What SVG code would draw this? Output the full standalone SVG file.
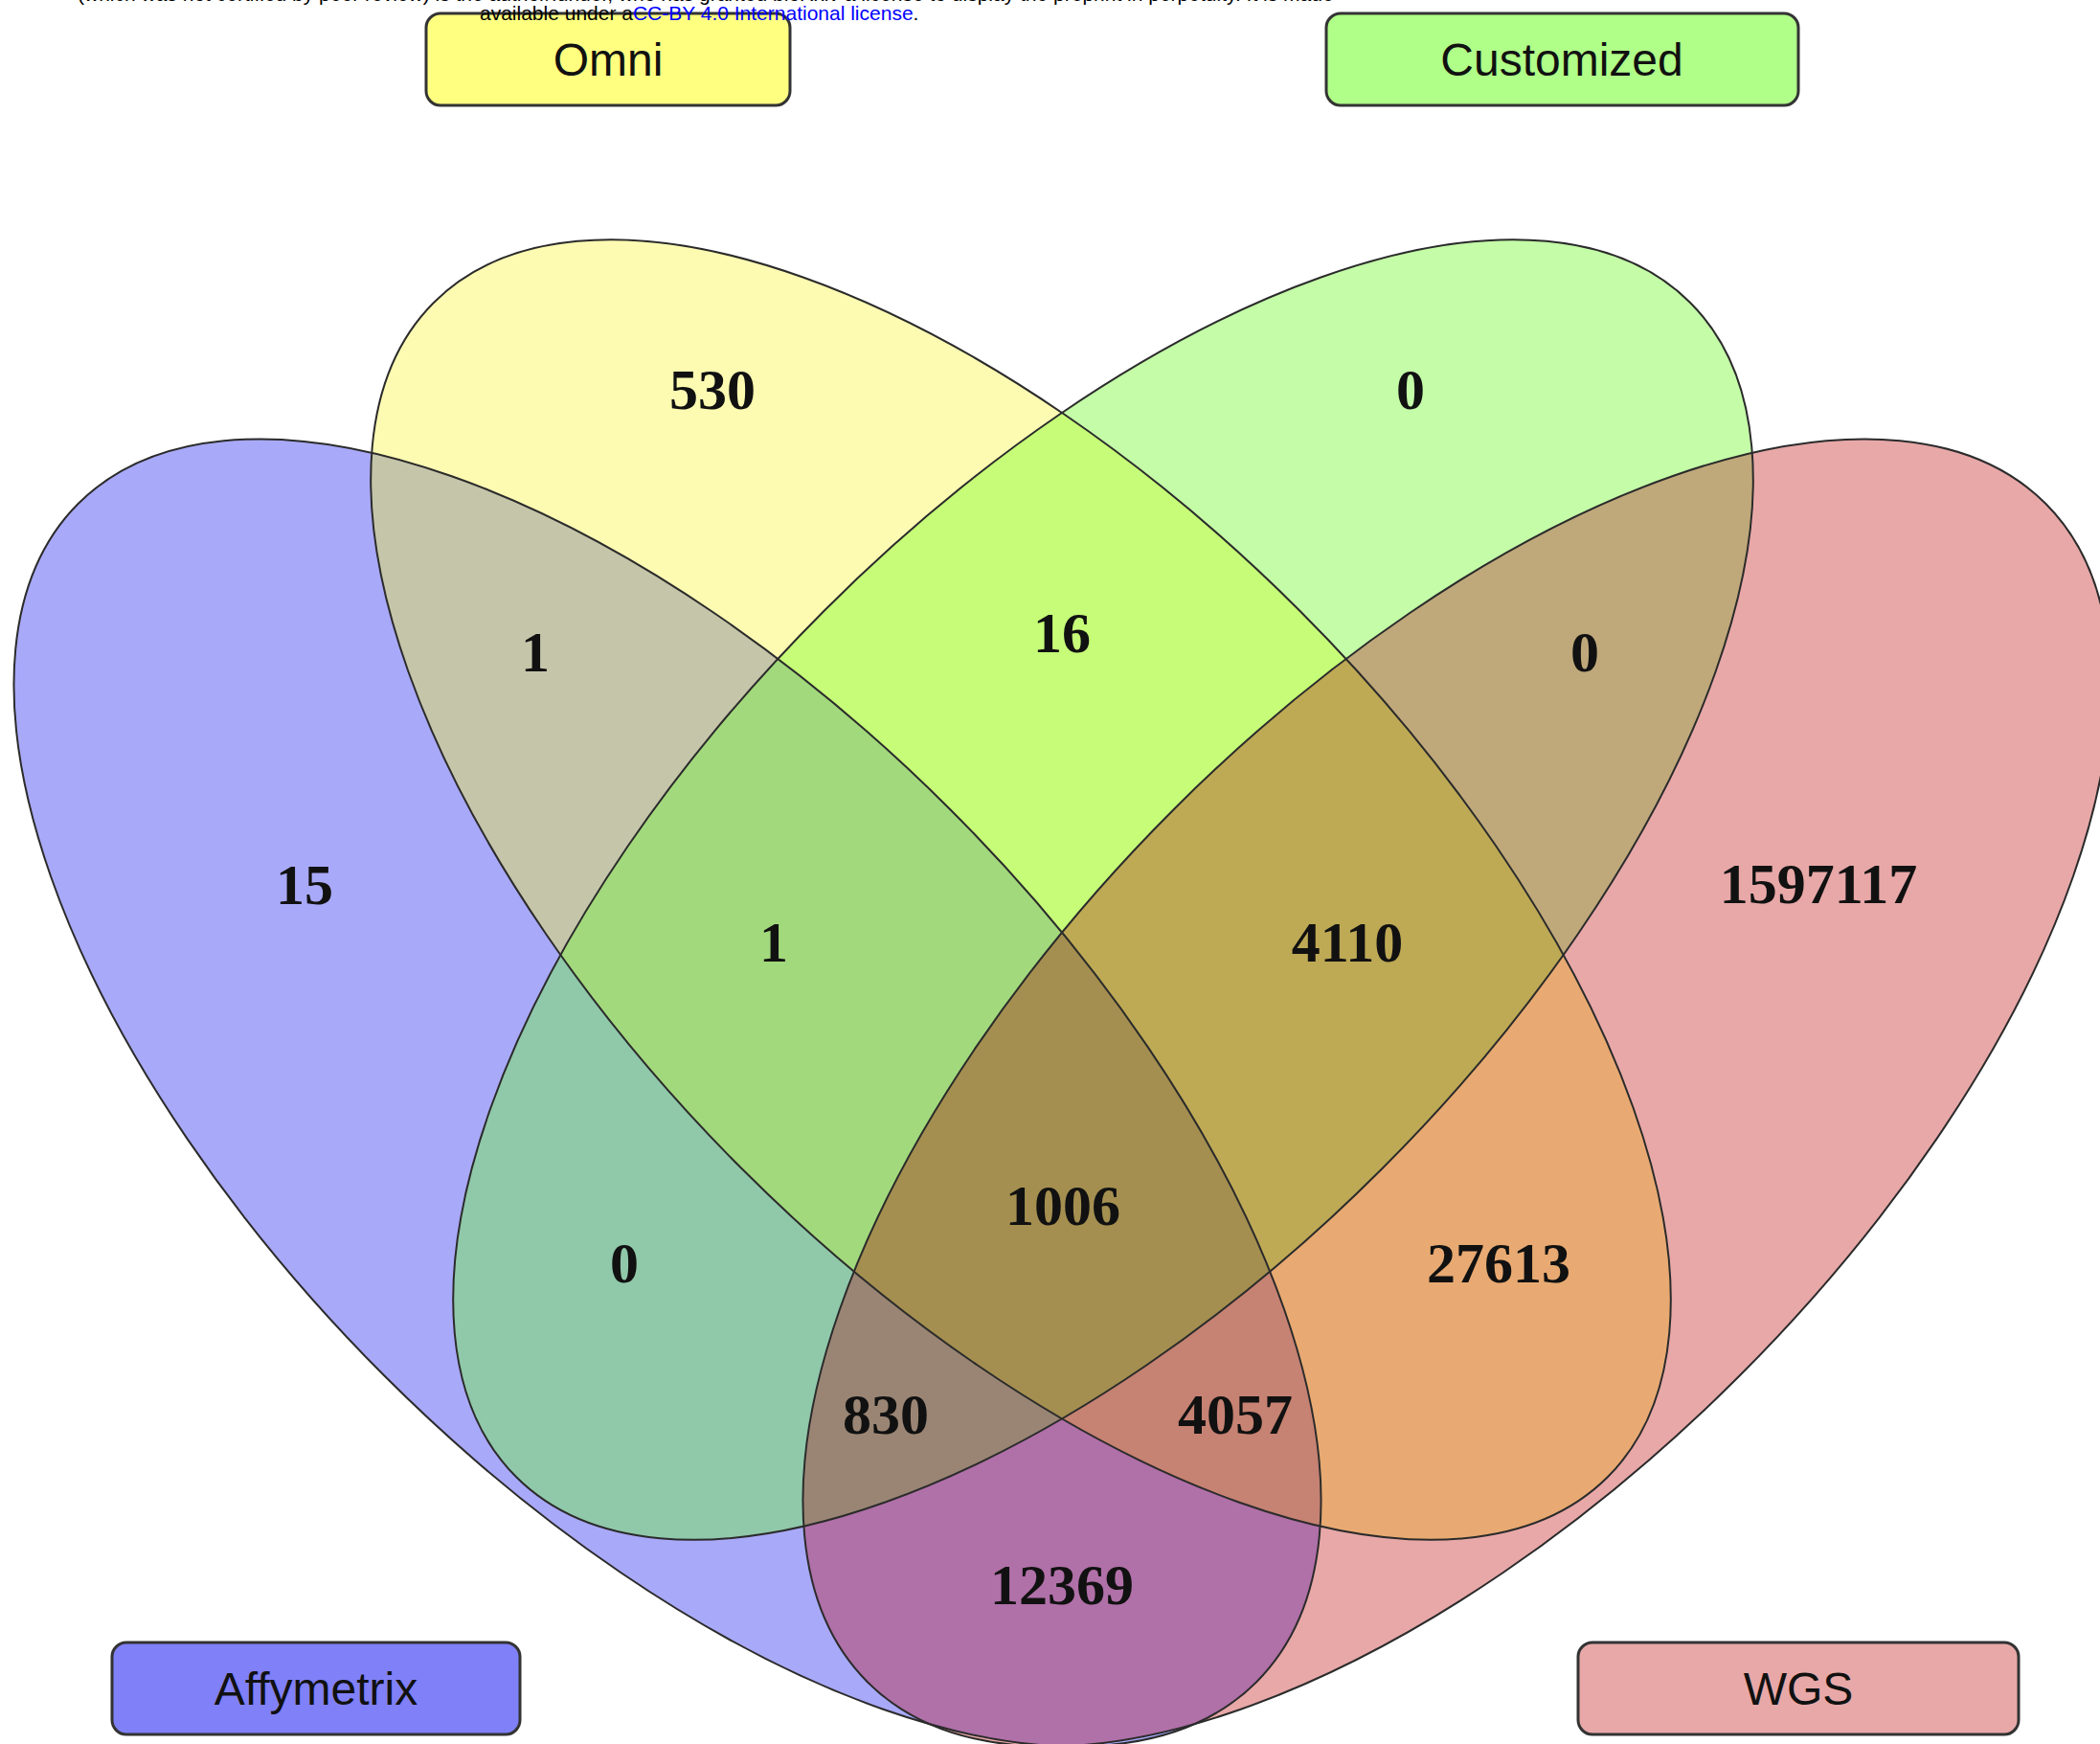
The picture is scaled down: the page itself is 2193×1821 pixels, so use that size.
<svg xmlns="http://www.w3.org/2000/svg" xmlns:xlink="http://www.w3.org/1999/xlink" width="2193" height="1821" viewBox="0 0 2193 1821">
<style>
.outline{fill:none;stroke:#2b2b2b;stroke-width:2}
.box{stroke:#333;stroke-width:3}
.lab{font-family:"Liberation Sans",Arial,sans-serif;font-size:48px;text-anchor:middle;fill:#111}
.count{font-family:"Liberation Serif","Times New Roman",serif;font-weight:bold;font-size:60px;text-anchor:middle;fill:#111}
.hdr{font-family:"Liberation Sans",Arial,sans-serif;font-size:21px;fill:#000}
</style>
<defs>
<ellipse id="eB" cx="697" cy="1141" rx="870" ry="418" transform="rotate(45 697 1141)"/>
<ellipse id="eY" cx="1066" cy="929" rx="867" ry="412" transform="rotate(45 1066 929)"/>
<ellipse id="eG" cx="1152" cy="929" rx="867" ry="412" transform="rotate(-45 1152 929)"/>
<ellipse id="eR" cx="1521" cy="1141" rx="870" ry="418" transform="rotate(-45 1521 1141)"/>
<clipPath id="cB"><use href="#eB"/></clipPath>
<clipPath id="cY"><use href="#eY"/></clipPath>
<clipPath id="cG"><use href="#eG"/></clipPath>
<clipPath id="cR"><use href="#eR"/></clipPath>
</defs>
<rect width="2193" height="1821" fill="#fff"/>
<g id="regions">
<use href="#eB" fill="#A9A9F9"/>
<use href="#eY" fill="#FDFBB2"/>
<use href="#eG" fill="#C4FCA8"/>
<use href="#eR" fill="#E8A8A8"/>
<g clip-path="url(#cB)"><use href="#eY" fill="#C5C5AA"/></g>
<g clip-path="url(#cB)"><use href="#eG" fill="#90C8AA"/></g>
<g clip-path="url(#cB)"><use href="#eR" fill="#B070A8"/></g>
<g clip-path="url(#cY)"><use href="#eG" fill="#C6FC78"/></g>
<g clip-path="url(#cY)"><use href="#eR" fill="#E8AA72"/></g>
<g clip-path="url(#cG)"><use href="#eR" fill="#BFA87A"/></g>
<g clip-path="url(#cB)"><g clip-path="url(#cY)"><use href="#eG" fill="#A2D97C"/></g></g>
<g clip-path="url(#cB)"><g clip-path="url(#cY)"><use href="#eR" fill="#C68272"/></g></g>
<g clip-path="url(#cB)"><g clip-path="url(#cG)"><use href="#eR" fill="#9A8574"/></g></g>
<g clip-path="url(#cY)"><g clip-path="url(#cG)"><use href="#eR" fill="#BEA955"/></g></g>
<g clip-path="url(#cB)"><g clip-path="url(#cY)"><g clip-path="url(#cG)"><use href="#eR" fill="#A48F50"/></g></g></g>
</g>
<g id="connectors"/>
<g id="set-affymetrix">
<use href="#eB" class="outline"/>
<rect class="box" x="117" y="1715" width="426" height="96" rx="15" fill="#8080F8"/>
<text class="lab" x="330" y="1780">Affymetrix</text>
</g>
<g id="set-omni">
<use href="#eY" class="outline"/>
<rect class="box" x="445" y="14" width="380" height="96" rx="15" fill="#FFFF80"/>
<text class="lab" x="635" y="79">Omni</text>
</g>
<g id="set-customized">
<use href="#eG" class="outline"/>
<rect class="box" x="1385" y="14" width="493" height="96" rx="15" fill="#B0FF88"/>
<text class="lab" x="1631" y="79">Customized</text>
</g>
<g id="set-wgs">
<use href="#eR" class="outline"/>
<rect class="box" x="1648" y="1715" width="460" height="96" rx="15" fill="#E8A8A8"/>
<text class="lab" x="1878" y="1780">WGS</text>
</g>
<g id="counts">
<text class="count" x="744" y="427">530</text>
<text class="count" x="1473" y="427">0</text>
<text class="count" x="559" y="701">1</text>
<text class="count" x="1109" y="681">16</text>
<text class="count" x="1655" y="701">0</text>
<text class="count" x="318" y="944">15</text>
<text class="count" x="1899" y="943">1597117</text>
<text class="count" x="808" y="1004">1</text>
<text class="count" x="1407" y="1004">4110</text>
<text class="count" x="1110" y="1279">1006</text>
<text class="count" x="652" y="1339">0</text>
<text class="count" x="1565" y="1339">27613</text>
<text class="count" x="925" y="1497">830</text>
<text class="count" x="1290" y="1497">4057</text>
<text class="count" x="1109" y="1675">12369</text>
</g>
<g id="header">
<text class="hdr" x="81" y="0.5">(which was not certified by peer review) is the author/funder, who has granted bioRxiv a license to display the preprint in perpetuity. It is made</text>
<text class="hdr" x="501" y="21">available under a<tspan fill="#0000FF">CC-BY 4.0 International license</tspan>.</text>
</g>
</svg>
